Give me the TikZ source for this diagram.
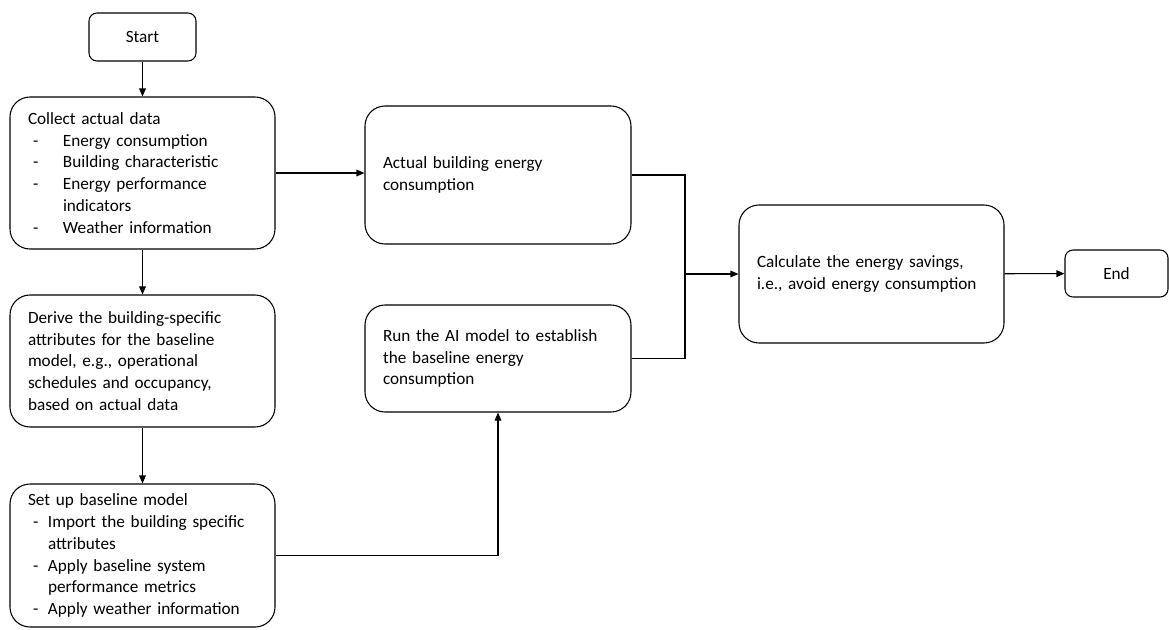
\documentclass[tikz,border=0pt]{standalone}
\usepackage{fontspec}
\setmainfont{Carlito}
\usetikzlibrary{arrows.meta}
\newcommand\lia[1]{\makebox[26.25pt][l]{\hspace{3.75pt}-}#1}
\newcommand\lca[1]{\hspace{26.25pt}#1}
\newcommand\lib[1]{\makebox[15pt][l]{\hspace{3.75pt}-}#1}
\newcommand\lcb[1]{\hspace{15pt}#1}
\begin{document}
\begin{tikzpicture}[x=0.75pt,y=-0.75pt,
  font=\fontsize{12.9pt}{16.4pt}\selectfont,
  box/.style={draw, line width=0.8pt, rounded corners=15pt, align=left,
    inner xsep=13.5pt, inner ysep=0pt, anchor=center},
  term/.style={draw, line width=0.8pt, rounded corners=6pt, align=center,
    inner sep=0pt, anchor=center},
  arr/.style={-{Triangle[length=6pt,width=5pt]}, line width=0.8pt},
  ln/.style={line width=0.8pt}]
\useasboundingbox (0,0) rectangle (1169,629);

\node[term, minimum width=80.25pt, minimum height=36pt] (start) at (142.5,37) {Start};

\node[box, minimum width=198.75pt, minimum height=114pt, text width=171.75pt] (collect) at (142.5,173)
 {Collect actual data\\
  \lia{Energy consumption}\\
  \lia{Building characteristic}\\
  \lia{Energy performance}\\
  \lca{indicators}\\
  \lia{Weather information}};

\node[box, minimum width=198.75pt, minimum height=99pt, text width=171.75pt] (derive) at (142.5,361)
 {Derive the building-specific\\
  attributes for the baseline\\
  model, e.g., operational\\
  schedules and occupancy,\\
  based on actual data};

\node[box, minimum width=198.75pt, minimum height=107.25pt, text width=171.75pt] (setup) at (142.5,555.5)
 {Set up baseline model\\
  \lib{Import the building specific}\\
  \lcb{attributes}\\
  \lib{Apply baseline system}\\
  \lcb{performance metrics}\\
  \lib{Apply weather information}};

\node[box, minimum width=199.5pt, minimum height=103.5pt, text width=172.5pt] (actual) at (498,175)
 {Actual building energy\\
  consumption};

\node[box, minimum width=199.5pt, minimum height=80.25pt, text width=172.5pt] (run) at (498,358.5)
 {Run the AI model to establish\\
  the baseline energy\\
  consumption};

\node[box, minimum width=198.75pt, minimum height=103.5pt, text width=171.75pt] (calc) at (871.5,274)
 {Calculate the energy savings,\\
  i.e., avoid energy consumption};

\node[term, minimum width=77.25pt, minimum height=35.25pt] (end) at (1116.5,273.5) {End};

\coordinate (j) at (685,274);

\draw[arr] (start) -- (collect);
\draw[arr] (collect) -- (derive);
\draw[arr] (derive) -- (setup);
\draw[arr] (collect.east) -- (collect.east -| actual.west);
\draw[arr] (setup.east) -| (run.south);
\draw[ln] (actual.east) -| (j);
\draw[ln] (run.east) -| (j);
\draw[arr] (j) -- (calc.west);
\draw[arr] (calc) -- (end);
\end{tikzpicture}
\end{document}
